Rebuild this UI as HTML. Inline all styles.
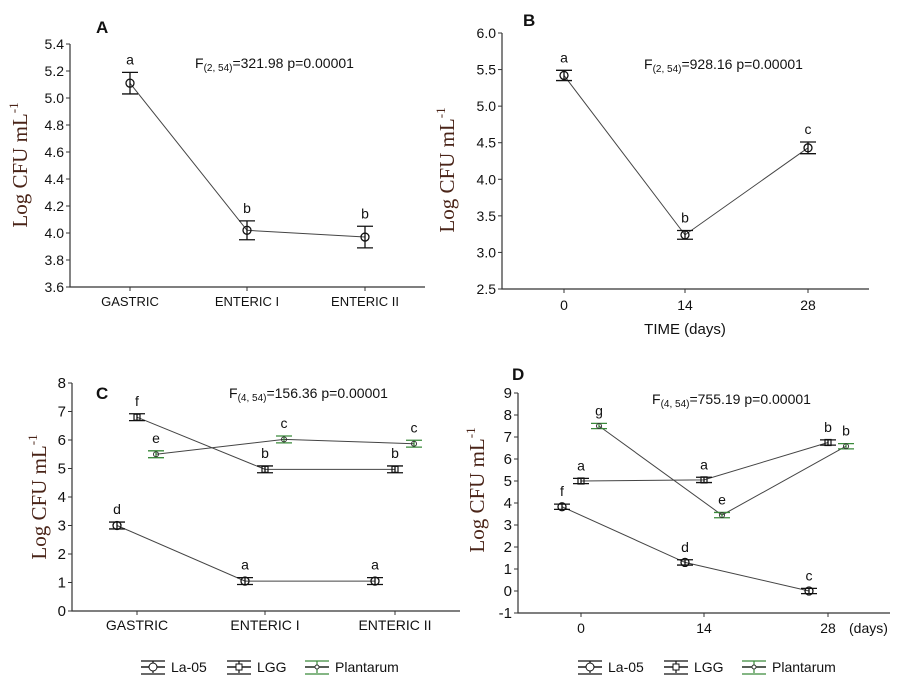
<!DOCTYPE html>
<html><head><meta charset="utf-8">
<style>
body{margin:0;background:#fff;}
svg{display:block;font-family:"Liberation Sans",sans-serif;}
.ttl{font-family:"Liberation Serif",serif;fill:#4a2418;font-size:21px;}
</style></head>
<body>
<svg id="c" width="898" height="694" viewBox="0 0 898 694" xmlns="http://www.w3.org/2000/svg"></svg>
<script>
// Panel A data
const aCats=["GASTRIC","ENTERIC I","ENTERIC II"];
const aVals=[5.11,4.02,3.97];
const aErr=[0.08,0.07,0.08];
const aLet=["a","b","b"];
const aTicks=["3.6","3.8","4.0","4.2","4.4","4.6","4.8","5.0","5.2","5.4"];
// Panel B data
const bCats=["0","14","28"];
const bVals=[5.42,3.24,4.43];
const bErr=[0.07,0.06,0.08];
const bLet=["a","b","c"];
const bTicks=["2.5","3.0","3.5","4.0","4.5","5.0","5.5","6.0"];
// Panel C data
const cCats=["GASTRIC","ENTERIC I","ENTERIC II"];
const cLa=[3.0,1.05,1.05];
const cLGG=[6.8,4.97,4.97];
const cPl=[5.5,6.02,5.87];
const cLaLet=["d","a","a"];
const cLGGLet=["f","b","b"];
const cPlLet=["e","c","c"];
const cTicks=["0","1","2","3","4","5","6","7","8"];
// Panel D data
const dCats=["0","14","28"];
const dLa=[3.83,1.3,0.0];
const dLGG=[5.0,5.05,6.75];
const dPl=[7.5,3.45,6.58];
const dLaLet=["f","d","c"];
const dLGGLet=["a","a","b"];
const dPlLet=["g","e","b"];
const dTicks=["-1","0","1","2","3","4","5","6","7","8","9"];
const seriesErr=0.12;

const svg=document.getElementById('c');
const NS='http://www.w3.org/2000/svg';
function mk(tag,attrs,parent){const e=document.createElementNS(NS,tag);for(const k in attrs)e.setAttribute(k,attrs[k]);(parent||svg).appendChild(e);return e;}
function txt(s,x,y,size,anchor,parent,cls){const t=mk('text',{x:x,y:y,'font-size':size,'text-anchor':anchor||'start',fill:'#111'},parent);if(cls)t.setAttribute('class',cls);t.textContent=s;return t;}

function panel(name,o){
  const g=mk('g',{});
  
  
  const ymin=parseFloat(o.ticks[0]),ymax=parseFloat(o.ticks[o.ticks.length-1]);
  const ys=v=>o.y0-(v-ymin)/(ymax-ymin)*(o.y0-o.y1);
  const ax=mk('path',{d:`M${o.x0} ${o.y1}V${o.y0}H${o.x1}`,stroke:'#333',fill:'none','stroke-width':1.2},g);
  
  
  o.ticks.forEach(t=>{const y=ys(parseFloat(t));mk('line',{x1:o.x0-4,x2:o.x0,y1:y,y2:y,stroke:'#333'},g);
    const l=txt(t,o.x0-6,y+5,o.tsize||14,'end',g);
    
    });
  o.cats.forEach((c,i)=>{const x=o.cx[i];mk('line',{x1:x,x2:x,y1:o.y0,y2:o.y0+4,stroke:'#333'},g);
    const l=txt(c,x,o.y0+o.catdy,o.catsize||14,'middle',g);
    
    });
  o.series.forEach(s=>{
    const pts=s.vals.map((v,i)=>[o.cx[i]+s.off,ys(v)]);
    const ln=mk('polyline',{points:pts.map(p=>p.join(',')).join(' '),fill:'none',stroke:'#444','stroke-width':1},g);
    
    
    pts.forEach((p,i)=>{
      const e=s.err?s.err[i]:seriesErr;const yt=ys(s.vals[i]+e),yb=ys(s.vals[i]-e);
      const eb=mk('path',{d:`M${p[0]} ${yt}V${yb}M${p[0]-8} ${yt}H${p[0]+8}M${p[0]-8} ${yb}H${p[0]+8}`,stroke:s.col,'stroke-width':1.3,fill:'none'},g);
      
      
      let m;
      if(s.mark==='c')m=mk('circle',{cx:p[0],cy:p[1],r:4,fill:'none',stroke:'#111','stroke-width':1.3},g);
      else if(s.mark==='s')m=mk('rect',{x:p[0]-3,y:p[1]-3,width:6,height:6,fill:'none',stroke:'#111','stroke-width':1.2},g);
      else m=mk('circle',{cx:p[0],cy:p[1],r:2.5,fill:'none',stroke:'#333','stroke-width':1},g);
      
      
      const l=txt(s.lets[i],p[0],yt-8,14,'middle',g);
      
      
    });
  });
  const pl=txt(o.label,o.lx,o.ly,17,'start',g);pl.setAttribute('font-weight','bold');
  
  
  const f=mk('text',{x:o.fx,y:o.fy,'font-size':14,fill:'#111'},g);
  f.innerHTML=`F<tspan font-size="10" dy="3">(${o.df})</tspan><tspan dy="-3">=${o.fv} p=0.00001</tspan>`;
  
  
  const yl=mk('text',{x:0,y:0,'font-size':21,'text-anchor':'middle',transform:`translate(${o.tx},${o.ty}) rotate(-90)`,class:'ttl'},g);
  yl.innerHTML='Log CFU mL<tspan font-size="13" dy="-9">-1</tspan>';
  
  
}
const BLK='#111',GRN='#3a8a3a';
panel('panel-a',{x0:70,x1:425,y0:287,y1:44,ticks:aTicks,cats:aCats,cx:[130,247,365],catdy:19,catsize:13,
  series:[{name:'a-mean',vals:aVals,err:aErr,lets:aLet,off:0,col:BLK,mark:'c'}],
  label:'A',lx:96,ly:33,fx:195,fy:68,df:'2, 54',fv:'321.98',tx:27,ty:165});
panel('panel-b',{x0:502,x1:869,y0:289,y1:33,ticks:bTicks,cats:bCats,cx:[564,685,808],catdy:21,
  series:[{name:'b-mean',vals:bVals,err:bErr,lets:bLet,off:0,col:BLK,mark:'c'}],
  label:'B',lx:523,ly:26,fx:644,fy:69,df:'2, 54',fv:'928.16',tx:454,ty:170});
txt('TIME (days)',685,334,15,'middle');
panel('panel-c',{x0:72,x1:460,y0:611,y1:383,ticks:cTicks,cats:cCats,cx:[137,265,395],catdy:19,tsize:15,
  series:[{name:'la05',vals:cLa,lets:cLaLet,off:-20,col:BLK,mark:'c'},{name:'lgg',vals:cLGG,lets:cLGGLet,off:0,col:BLK,mark:'s'},{name:'plantarum',vals:cPl,lets:cPlLet,off:19,col:GRN,mark:'d'}],
  label:'C',lx:96,ly:399,fx:229,fy:398,df:'4, 54',fv:'156.36',tx:46,ty:497});
panel('panel-d',{x0:518,x1:890,y0:613,y1:393,ticks:dTicks,cats:dCats,cx:[581,704,828],catdy:20,tsize:15,
  series:[{name:'la05',vals:dLa,lets:dLaLet,off:-19,col:BLK,mark:'c'},{name:'lgg',vals:dLGG,lets:dLGGLet,off:0,col:BLK,mark:'s'},{name:'plantarum',vals:dPl,lets:dPlLet,off:18,col:GRN,mark:'d'}],
  label:'D',lx:512,ly:380,fx:652,fy:404,df:'4, 54',fv:'755.19',tx:484,ty:490});
txt('(days)',849,633,14,'start');

function legend(x,y,name){
  const g=mk('g',{});
  
  
  const items=[['La-05',BLK,'c',56],['LGG',BLK,'s',48],['Plantarum',GRN,'d',90]];
  let cx=x;
  items.forEach(it=>{
    mk('path',{d:`M${cx} ${y}H${cx+24}M${cx+12} ${y-6}V${y+6}M${cx} ${y-6}H${cx+24}M${cx} ${y+7}H${cx+24}`,stroke:it[1],'stroke-width':1.2,fill:'none'},g);
    mk('line',{x1:cx,x2:cx+24,y1:y,y2:y,stroke:'#111','stroke-width':1.2},g);
    if(it[2]==='c')mk('circle',{cx:cx+12,cy:y,r:4,fill:'#fff',stroke:'#111'},g);
    else if(it[2]==='s')mk('rect',{x:cx+9,y:y-3,width:6,height:6,fill:'#fff',stroke:'#111'},g);
    else mk('circle',{cx:cx+12,cy:y,r:2,fill:'#fff',stroke:'#333'},g);
    const t=txt(it[0],cx+30,y+5,14,'start',g);
    
    
    cx+=30+it[3];
  });
}
legend(141,667,'legend-c');
legend(578,667,'legend-d');
</script>
</body></html>
